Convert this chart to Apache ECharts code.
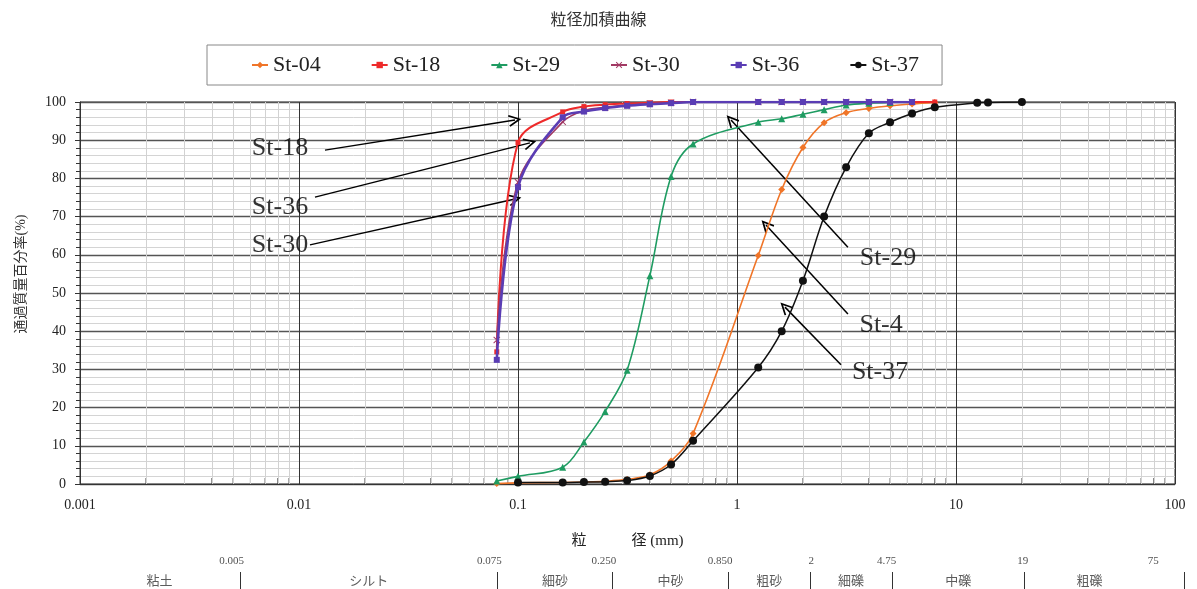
<!DOCTYPE html>
<html><head><meta charset="utf-8">
<script src="https://cdn.jsdelivr.net/npm/echarts@6/dist/echarts.min.js"></script>
<style>html,body{margin:0;padding:0;background:#fff}#c{width:1197px;height:589px}</style>
</head><body><div id="c"></div>
<script>
// ---------- data ----------
const seriesNames = ['St-04', 'St-18', 'St-29', 'St-30', 'St-36', 'St-37'];
const sizes04 = [0.08, 0.1, 0.16, 0.2, 0.25, 0.315, 0.4, 0.5, 0.63, 1.25, 1.6, 2, 2.5, 3.15, 4, 5, 6.3, 8];
const pass04  = [0.1, 0.3, 0.4, 0.5, 0.7, 1.2, 2.4, 6.0, 13.2, 59.8, 77.1, 88.1, 94.6, 97.2, 98.3, 99.0, 99.5, 99.9];
const sizes18 = [0.08, 0.1, 0.16, 0.2, 0.25, 0.315, 0.4, 0.5, 0.63, 1.25, 1.6, 2, 2.5, 3.15, 4, 5, 6.3, 8];
const pass18  = [34.6, 89.4, 97.4, 98.8, 99.3, 99.6, 99.8, 100, 100, 100, 100, 100, 100, 100, 100, 100, 100, 100];
const sizes29 = [0.08, 0.1, 0.16, 0.2, 0.25, 0.315, 0.4, 0.5, 0.63, 1.25, 1.6, 2, 2.5, 3.15, 4, 5];
const pass29  = [0.8, 2.0, 4.4, 11.0, 19.0, 29.8, 54.5, 80.5, 89.0, 94.7, 95.6, 96.8, 98.0, 99.2, 99.7, 99.9];
const sizes30 = [0.08, 0.1, 0.16, 0.2, 0.25, 0.315, 0.4, 0.5, 0.63, 1.25, 1.6, 2, 2.5, 3.15, 4, 5, 6.3];
const pass30  = [37.7, 79.0, 94.8, 97.8, 98.6, 99.2, 99.6, 99.8, 100, 100, 100, 100, 100, 100, 100, 100, 100];
const sizes36 = [0.08, 0.1, 0.16, 0.2, 0.25, 0.315, 0.4, 0.5, 0.63, 1.25, 1.6, 2, 2.5, 3.15, 4, 5, 6.3];
const pass36  = [32.5, 77.7, 96.0, 97.5, 98.4, 99.0, 99.4, 99.7, 100, 100, 100, 100, 100, 100, 100, 100, 100];
const sizes37 = [0.1, 0.16, 0.2, 0.25, 0.315, 0.4, 0.5, 0.63, 1.25, 1.6, 2, 2.5, 3.15, 4, 5, 6.3, 8, 12.5, 14, 20];
const pass37  = [0.4, 0.4, 0.5, 0.6, 0.9, 2.1, 5.1, 11.3, 30.5, 40.0, 53.2, 70.0, 82.9, 91.8, 94.7, 97.0, 98.6, 99.8, 99.9, 100];

// annotation texts and arrows (data coordinates: size mm, percent)
const noteTexts  = ['St-18', 'St-36', 'St-30', 'St-29', 'St-4', 'St-37'];
const noteAt     = [[0.00819, 88.0], [0.00819, 72.5], [0.00819, 62.6], [4.89, 59.2], [4.55, 41.6], [4.5, 29.3]];
const arrowFrom  = [[0.01314, 87.4], [0.01183, 75.1], [0.01122, 62.6], [3.21, 62.0], [3.21, 44.5], [2.985, 31.2]];
const arrowTo    = [[0.0969, 95.3], [0.1134, 89.3], [0.0969, 74.6], [0.939, 95.3], [1.356, 67.8], [1.656, 46.3]];

// soil classification table
const classBounds = [0.005, 0.075, 0.25, 0.85, 2, 4.75, 19, 75];
const boundLabels = ['0.005', '0.075', '0.250', '0.850', '2', '4.75', '19', '75'];
const classNames  = ['粘土', 'シルト', '細砂', '中砂', '粗砂', '細礫', '中礫', '粗礫'];
const tableMin = 0.00092, tableMax = 102;

// y ticks
const yMin = 0, yMax = 100, yStep = 10;
// ---------- end data ----------

const serif = "'Liberation Serif','Noto Sans CJK JP',serif";
const cjk = "'Noto Sans CJK JP',sans-serif";
const colors = ['#f07528', '#ee2a2a', '#1f9c62', '#a23a64', '#5a3db4', '#111111'];
const xMark = 'path://M1,0 L5,4 L9,0 L10,1 L6,5 L10,9 L9,10 L5,6 L1,10 L0,9 L4,5 L0,1 Z';
const chevron = 'path://M0,10 L5,0 L10,10 L8.8,10.8 L5,3.2 L1.2,10.8 Z';
const symbols = ['diamond', 'rect', 'triangle', xMark, 'rect', 'circle'];
const symSizes = [7, 5, 7, 7, 6, 8];
const widths = [1.6, 2, 1.6, 1.6, 2.6, 1.5];
const sizeSets = [sizes04, sizes18, sizes29, sizes30, sizes36, sizes37];
const passSets = [pass04, pass18, pass29, pass30, pass36, pass37];

// minor grid positions 2..9 of each decade
const minorVals = [];
for (let e = -3; e < 2; e++) for (let k = 2; k <= 9; k++) minorVals.push(+(k * Math.pow(10, e)).toPrecision(3));

const fmt = v => String(parseFloat((+v).toPrecision(6)));

const dataSeries = seriesNames.map((n, i) => ({
  name: n, type: 'line', xAxisIndex: 0, yAxisIndex: 0,
  data: sizeSets[i].map((s, j) => [s, passSets[i][j]]),
  smooth: 0.35, symbol: symbols[i], symbolSize: symSizes[i], showSymbol: true,
  lineStyle: { color: colors[i], width: widths[i] },
  itemStyle: { color: colors[i] }, z: 5 + i
}));

const option = {
  animation: false,
  backgroundColor: '#fff',
  title: { text: '粒径加積曲線', left: 'center', top: 6,
    textStyle: { fontFamily: cjk, fontSize: 16, fontWeight: 'normal', color: '#333' } },
  legend: {
    data: seriesNames, left: 207, top: 45, padding: [9, 23, 9, 44], itemGap: 50,
    itemWidth: 16, itemHeight: 8, borderColor: '#888', borderWidth: 1,
    textStyle: { fontFamily: serif, fontSize: 22, color: '#222' }
  },
  grid: [
    { left: 80, right: 22, top: 102, bottom: 105, show: true, borderColor: '#333', borderWidth: 1 },
    { left: 79, right: 13, top: 572, height: 17 }
  ],
  xAxis: [
    { type: 'log', logBase: 10, min: 0.001, max: 100, gridIndex: 0,
      axisLine: { lineStyle: { color: '#333' } }, axisTick: { show: false },
      axisLabel: { margin: 14, fontFamily: serif, fontSize: 14, color: '#222', formatter: fmt },
      splitLine: { show: true, lineStyle: { color: '#333', width: 1 } },
      name: '粒　　　径 (mm)', nameLocation: 'middle', nameGap: 50,
      nameTextStyle: { fontFamily: serif, fontSize: 15, color: '#222' } },
    { type: 'log', logBase: 10, min: tableMin, max: tableMax, gridIndex: 1, position: 'top',
      axisLine: { show: true, lineStyle: { color: '#333' } }, axisTick: { show: false },
      axisLabel: { show: false }, splitLine: { show: false } }
  ],
  yAxis: [
    { type: 'value', min: yMin, max: yMax, interval: yStep, gridIndex: 0,
      axisLine: { show: true, lineStyle: { color: '#333' } },
      axisTick: { show: true, length: 5, lineStyle: { color: '#333' } },
      minorTick: { show: true, splitNumber: 5, length: 4, lineStyle: { color: '#333' } },
      axisLabel: { margin: 14, fontFamily: serif, fontSize: 14, color: '#222' },
      splitLine: { show: true, lineStyle: { color: '#555', width: 1.4 } },
      minorSplitLine: { show: true, lineStyle: { color: '#d4d4d4', width: 1 } },
      name: '通過質量百分率(%)', nameLocation: 'middle', nameGap: 52,
      nameTextStyle: { fontFamily: serif, fontSize: 14, color: '#333', padding: [0, 0, 0, 38] } },
    { type: 'value', min: 0, max: 1, gridIndex: 1, show: false }
  ],
  series: [
    { name: 'minorGrid', type: 'line', xAxisIndex: 0, yAxisIndex: 0, data: [], z: 1, silent: true,
      markLine: { silent: true, precision: 10, symbol: ['none', 'none'], label: { show: false },
        lineStyle: { color: '#d2d2d2', width: 1, type: 'solid' },
        data: minorVals.map(v => ({ xAxis: v })) } },
    { name: 'minorTicks', type: 'scatter', xAxisIndex: 0, yAxisIndex: 0, z: 2, silent: true,
      data: minorVals.map(v => [v, 0]), symbol: 'rect', symbolSize: [1, 6], symbolOffset: [0, -3],
      itemStyle: { color: '#333' } },
    ...dataSeries,
    { name: 'arrows', type: 'line', xAxisIndex: 0, yAxisIndex: 0, data: [], z: 20, silent: true,
      markLine: { silent: true, precision: 10, symbol: ['none', chevron], symbolSize: [12, 13], label: { show: false },
        lineStyle: { color: '#000', width: 1.5, type: 'solid' },
        data: arrowFrom.map((f, i) => [{ coord: f }, { coord: arrowTo[i] }]) } },
    { name: 'notes', type: 'scatter', xAxisIndex: 0, yAxisIndex: 0, z: 21, silent: true,
      data: noteAt.map((p, i) => ({ value: p, label: { formatter: noteTexts[i] } })),
      symbolSize: 1, itemStyle: { color: 'rgba(0,0,0,0)' },
      label: { show: true, position: 'inside', fontFamily: serif, fontSize: 26, color: '#000' } },
    { name: 'tableDividers', type: 'line', xAxisIndex: 1, yAxisIndex: 1, data: [], silent: true,
      markLine: { silent: true, precision: 10, symbol: ['none', 'none'], label: { show: false },
        lineStyle: { color: '#333', width: 1, type: 'solid' },
        data: classBounds.slice(0, 7).concat([tableMax]).map(v => ({ xAxis: v })) } },
    { name: 'boundLabels', type: 'scatter', xAxisIndex: 1, yAxisIndex: 1, silent: true,
      data: classBounds.map((v, i) => ({ value: [v, 1], label: { formatter: boundLabels[i] } })),
      symbolSize: 1, itemStyle: { color: 'rgba(0,0,0,0)' },
      label: { show: true, position: 'top', align: 'right', offset: [4, -1], distance: 4,
        fontFamily: serif, fontSize: 11, color: '#222' } },
    { name: 'classNames', type: 'scatter', xAxisIndex: 1, yAxisIndex: 1, silent: true,
      data: classNames.map((n, i) => {
        const lo = i === 0 ? tableMin : classBounds[i - 1];
        const hi = classBounds[i];
        return { value: [Math.sqrt(lo * hi), 0.5], label: { formatter: n } };
      }),
      symbolSize: 1, itemStyle: { color: 'rgba(0,0,0,0)' },
      label: { show: true, position: 'inside', fontFamily: cjk, fontSize: 13, color: '#333' } }
  ]
};
const chart = echarts.init(document.getElementById('c'), null, { renderer: 'canvas' });
chart.setOption(option);
</script></body></html>
